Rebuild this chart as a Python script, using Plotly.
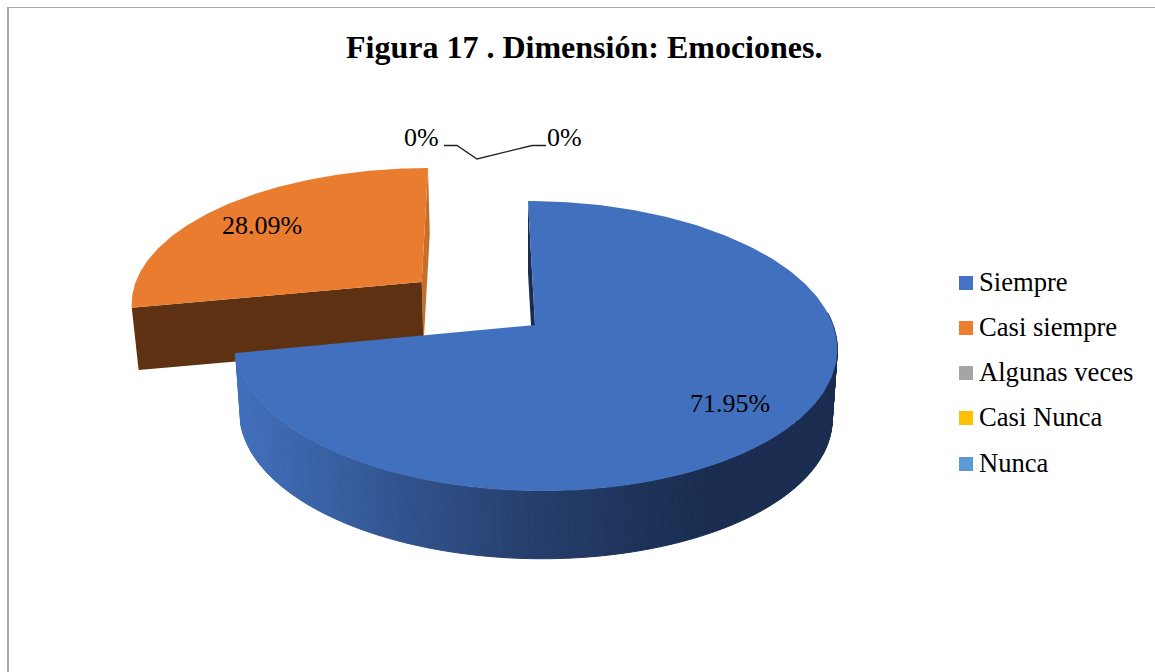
# Figura 17: 3D style pie drawn on a pixel sized plot area

import math
import plotly.graph_objects as go

title = "Figura 17 . Dimensión: Emociones."
categories = ["Siempre", "Casi siempre", "Algunas veces", "Casi Nunca", "Nunca"]
values = [71.95, 28.09, 0, 0, 0]
legend_colors = ["#4472C4", "#ED7D31", "#A5A5A5", "#FFC000", "#5B9BD5"]
slice_labels = ["71.95%", "28.09%"]
zero_labels = ["0%", "0%"]

FONT = "Liberation Serif"
TILT = 0.145  # perspective of the disc

# geometry of each slice: apex x, apex y, rx, ry, shear
BLUE_TOP = (535, 325, 298, 142, -7)
BLUE_BOT = (535, 395, 293, 140, -7)
ORANGE_TOP = (421.7, 282, 286, 130.5, 6.3)
ORANGE_BOT = (423.5, 345, 281, 127, 6.3)

# wall colour by screen x
WALL_STOPS = [(236, (66, 112, 188)), (400, (49, 84, 143)), (520, (39, 64, 111)),
              (640, (30, 51, 89)), (710, (26, 45, 80)), (840, (26, 45, 80))]


def project(deg, disc):
    ax, ay, rx, ry, shear = disc
    t = math.radians(deg)
    px, py = math.sin(t), math.cos(t)
    d = 1 + TILT * py
    return ax + rx * px / d + shear * py, ay - ry * py / d


def arc(start, end, disc, steps=120):
    return [project(start + (end - start) * i / steps, disc) for i in range(steps + 1)]


def wall_color(x):
    for (x0, c0), (x1, c1) in zip(WALL_STOPS, WALL_STOPS[1:]):
        if x <= x1:
            f = max(0, (x - x0) / (x1 - x0))
            return "rgb(%d,%d,%d)" % tuple(round(a + (b - a) * f) for a, b in zip(c0, c1))
    return "rgb(26,45,80)"


def polygon(points, color, width=0):
    return go.Scatter(x=[p[0] for p in points] + [points[0][0]],
                      y=[p[1] for p in points] + [points[0][1]],
                      mode="lines", fill="toself", fillcolor=color,
                      line=dict(color=color, width=width),
                      hoverinfo="skip", showlegend=False)


total = sum(values)
blue_end = values[0] / total * 360
orange_end = blue_end + values[1] / total * 360

fig = go.Figure()

# orange slice: side faces first, then the top
fig.add_trace(polygon([ORANGE_TOP[:2], project(orange_end, ORANGE_TOP),
                       project(orange_end, ORANGE_BOT), ORANGE_BOT[:2]], "#C46F2B"))
fig.add_trace(polygon([ORANGE_TOP[:2], project(blue_end, ORANGE_TOP),
                       project(blue_end, ORANGE_BOT), ORANGE_BOT[:2]], "#5E3113"))
fig.add_trace(polygon([ORANGE_TOP[:2]] + arc(blue_end, orange_end, ORANGE_TOP), "#EA7C30"))

# blue slice: inner face, rim strips, then the top
fig.add_trace(polygon([BLUE_TOP[:2], project(0, BLUE_TOP),
                       project(0, BLUE_BOT), BLUE_BOT[:2]], "#1A2D50"))
rim_steps = 200
rim_start = 85
for i in range(rim_steps):
    a = rim_start + (blue_end - rim_start) * i / rim_steps
    b = rim_start + (blue_end - rim_start) * (i + 1) / rim_steps
    strip = [project(a, BLUE_TOP), project(b, BLUE_TOP), project(b, BLUE_BOT), project(a, BLUE_BOT)]
    x_mid = sum(p[0] for p in strip) / 4
    fig.add_trace(polygon(strip, wall_color(x_mid), width=1))
fig.add_trace(polygon([BLUE_TOP[:2]] + arc(0, blue_end, BLUE_TOP, 240), "#4170BF"))

# legend swatches
legend_y = [283, 328, 373, 418, 464]
fig.add_trace(go.Scatter(x=[966] * len(categories), y=legend_y, mode="markers",
                         marker=dict(symbol="square", size=14, color=legend_colors),
                         hoverinfo="skip", showlegend=False))

annotations = [dict(x=583.5, y=47, text="<b>%s</b>" % title, font=dict(size=32))]
for name, y in zip(categories, legend_y):
    annotations.append(dict(x=977, y=y - 1, text=name, xanchor="left", font=dict(size=26.6)))
annotations.append(dict(x=730, y=403, text=slice_labels[0], font=dict(size=26)))
annotations.append(dict(x=262, y=225, text=slice_labels[1], font=dict(size=26)))
annotations.append(dict(x=421, y=137, text=zero_labels[0], font=dict(size=26)))
annotations.append(dict(x=564, y=137, text=zero_labels[1], font=dict(size=26)))
for a in annotations:
    a.update(xref="x", yref="y", showarrow=False, yanchor="middle")
    a["font"].update(family=FONT, color="#000000")

frame = "#A9A9A9"
fig.update_layout(
    width=1155, height=672,
    margin=dict(l=0, r=0, t=0, b=0),
    paper_bgcolor="#FFFFFF", plot_bgcolor="#FFFFFF",
    showlegend=False,
    xaxis=dict(range=[0, 1155], visible=False, fixedrange=True),
    yaxis=dict(range=[672, 0], visible=False, fixedrange=True),
    annotations=annotations,
    shapes=[
        dict(type="line", x0=7, x1=1155, y0=7.5, y1=7.5, line=dict(color=frame, width=1)),
        dict(type="line", x0=8, x1=8, y0=7, y1=672, line=dict(color=frame, width=2)),
        # leader line of the zero labels
        dict(type="path", path="M 444 145.5 L 457 145.5 L 477 159 L 532 145.5 L 546 145.5",
             line=dict(color="#222222", width=1.3)),
    ],
)

fig.write_html("out.html", config=dict(displayModeBar=False),
               post_script="document.body.style.margin='0';")
